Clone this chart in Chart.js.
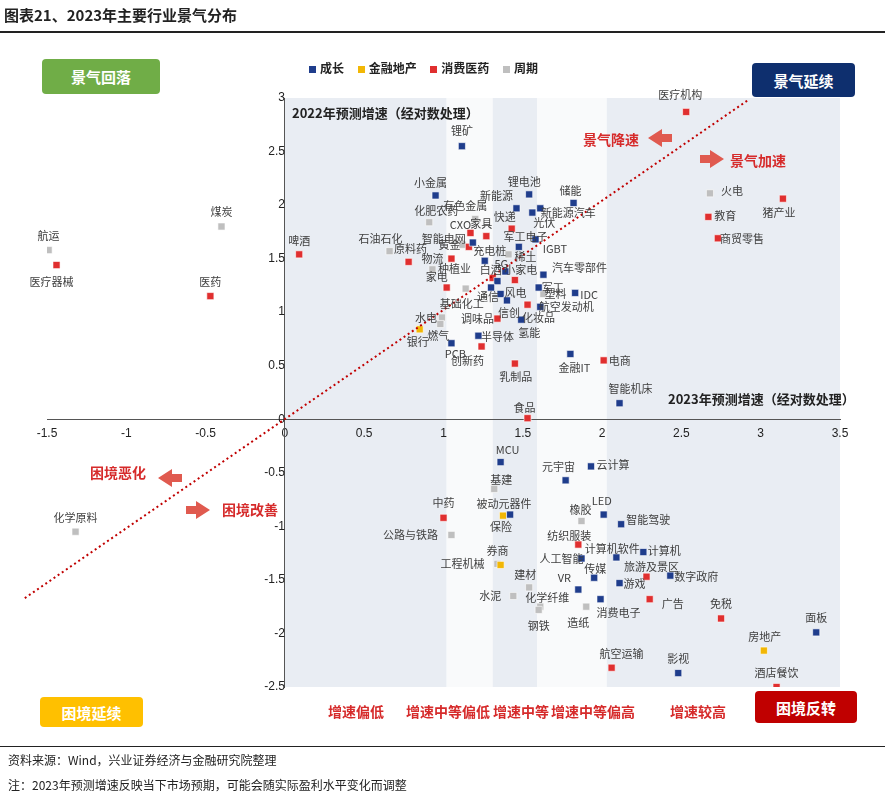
<!DOCTYPE html>
<html><head><meta charset="utf-8">
<script src="https://cdn.jsdelivr.net/npm/chart.js@4"></script>
<style>
body{margin:0;width:885px;height:802px;position:relative;background:#fff;font-family:"Noto Sans CJK SC",sans-serif;overflow:hidden}
.abs{position:absolute;white-space:nowrap}
.box{position:absolute;color:#fff;font-weight:bold;font-size:15px;display:flex;align-items:center;justify-content:center;border-radius:4px}
.red{color:#d62b2b;font-weight:bold;font-size:14px}
.lg{display:inline-block;width:7px;height:7px;margin-right:4px;vertical-align:middle}
</style></head><body>
<canvas id="c" width="885" height="802" style="position:absolute;left:0;top:0"></canvas>
<div class="abs" style="left:4px;top:4px;font-weight:bold;font-size:15px;color:#222">图表21、2023年主要行业景气分布</div>
<div class="abs" style="left:0;top:31px;width:885px;height:2px;background:#222"></div>
<div class="box" style="left:42px;top:59px;width:118px;height:35px;background:#70ad47">景气回落</div>
<div class="box" style="left:752px;top:63px;width:103px;height:34px;background:#0e2f6e">景气延续</div>
<div class="box" style="left:40px;top:697px;width:103px;height:30px;background:#ffc000">困境延续</div>
<div class="box" style="left:755px;top:691px;width:102px;height:32px;background:#c00000">困境反转</div>
<div class="abs" style="left:309px;top:59px;font-size:12px;font-weight:bold;color:#222">
<span class="lg" style="background:#1f3d8c"></span>成长&nbsp;&nbsp;&nbsp;&nbsp;&nbsp;<span class="lg" style="background:#f2b705"></span>金融地产&nbsp;&nbsp;&nbsp;&nbsp;&nbsp;<span class="lg" style="background:#e02f2f"></span>消费医药&nbsp;&nbsp;&nbsp;&nbsp;&nbsp;<span class="lg" style="background:#bfbfbf"></span>周期</div>
<div class="abs" style="left:292px;top:103px;font-size:13px;font-weight:bold;color:#222">2022年预测增速（经对数处理）</div>
<div class="abs" style="left:668px;top:389px;font-size:13px;font-weight:bold;color:#222">2023年预测增速（经对数处理）</div>
<div class="abs red" style="left:583px;top:129px">景气降速</div>
<div class="abs red" style="left:730px;top:150px">景气加速</div>
<div class="abs red" style="left:90px;top:462px">困境恶化</div>
<div class="abs red" style="left:222px;top:499px">困境改善</div>
<div class="abs red" style="left:328px;top:701px">增速偏低</div>
<div class="abs red" style="left:406px;top:701px">增速中等偏低</div>
<div class="abs red" style="left:493px;top:701px">增速中等</div>
<div class="abs red" style="left:551px;top:701px">增速中等偏高</div>
<div class="abs red" style="left:670px;top:701px">增速较高</div>
<svg class="abs" style="left:0;top:0" width="885" height="802">
<polygon points="672,134 662,134 662,129 648,138 662,147 662,142 672,142" fill="#e05a4f"/>
<polygon points="700,155 710,155 710,150 724,159 710,168 710,163 700,163" fill="#e05a4f"/>
<polygon points="182,474 172,474 172,469 158,478 172,487 172,482 182,482" fill="#e05a4f"/>
<polygon points="186,506 196,506 196,501 210,510 196,519 196,514 186,514" fill="#e05a4f"/>
</svg>
<div class="abs" style="left:0;top:746px;width:885px;height:1px;background:#222"></div>
<div class="abs" style="left:8px;top:751px;font-size:12px;color:#222">资料来源：Wind，兴业证券经济与金融研究院整理</div>
<div class="abs" style="left:8px;top:776px;font-size:12px;color:#222">注：2023年预测增速反映当下市场预期，可能会随实际盈利水平变化而调整</div>
<script>
// ---- data ----
const growthNames=["锂矿","小金属","锂电池","新能源","储能","新能源汽车","光伏","智能电网","军工电子","IGBT","充电桩","5G","汽车零部件","","军工","IDC","通信","风电","信创","航空发动机","氢能","半导体","PCB","金融IT","智能机床","MCU","元宇宙","云计算","LED","被动元器件","智能驾驶","计算机软件","计算机","人工智能","传媒","游戏","数字政府","VR","消费电子","影视","面板"];
const growthX=[1.116,0.95,1.54,1.46,1.82,1.61,1.56,1.185,1.58,1.475,1.26,1.39,1.63,1.34,1.60,1.83,1.30,1.36,1.40,1.61,1.49,1.22,1.05,1.80,2.11,1.36,1.77,1.93,2.01,1.42,2.12,2.09,2.26,1.87,1.95,2.11,2.43,1.85,1.99,2.48,3.35];
const growthY=[2.55,2.09,2.10,1.97,2.02,1.97,1.93,1.65,1.68,1.61,1.48,1.38,1.35,1.29,1.23,1.18,1.23,1.17,1.11,1.05,0.93,0.78,0.71,0.61,0.15,-0.40,-0.57,-0.44,-0.89,-0.89,-0.98,-1.29,-1.24,-1.30,-1.48,-1.53,-1.46,-1.59,-1.68,-2.37,-1.99];
const finNames=["银行","保险","券商","房地产"];
const finX=[0.85,1.375,1.36,3.02];
const finY=[0.84,-0.90,-1.36,-2.16];
const consNames=["医疗机构","猪产业","教育","商贸零售","啤酒","医疗器械","医药","原料药","CXO","家具","快递","","种植业","白酒","小家电","家电","化妆品","调味品","创新药","乳制品","电商","食品","中药","纺织服装","旅游及景区","广告","免税","航空运输","酒店餐饮"];
const consX=[2.53,3.14,2.67,2.73,0.09,-1.44,-0.47,0.78,1.17,1.27,1.43,1.16,1.05,1.31,1.45,1.02,1.53,1.34,1.24,1.45,2.01,1.53,1.00,1.85,2.28,2.30,2.75,2.06,3.10];
const consY=[2.87,2.06,1.89,1.69,1.54,1.44,1.15,1.47,1.74,1.71,1.78,1.61,1.50,1.32,1.30,1.23,1.07,0.94,0.68,0.52,0.55,0.01,-0.92,-1.17,-1.47,-1.68,-1.86,-2.32,-2.50];
const cycNames=["航运","煤炭","化学原料","石油石化","化肥农药","有色金属","黄金","稀土","物流","基础化工","塑料","水电","燃气","基建","橡胶","公路与铁路","工程机械","建材","水泥","化学纤维","钢铁","造纸","火电"];
const cycX=[-1.49,-0.40,-1.32,0.66,0.91,1.20,1.12,1.41,0.93,1.14,1.63,0.99,0.98,1.32,1.87,1.05,1.34,1.54,1.44,1.61,1.60,1.90,2.68];
const cycY=[1.58,1.80,-1.05,1.57,1.84,1.87,1.63,1.54,1.40,1.22,1.17,0.95,0.89,-0.65,-0.95,-1.08,-1.35,-1.57,-1.65,-1.75,-1.78,-1.75,2.11];
const bandEdges=[0,1.02,1.31,1.59,2.03,3.5];
const diagX=[-1.64,2.93], diagY=[-1.67,2.99];
// ---- label placement (px offsets) ----
const off={"锂矿":[0,-15],"小金属":[-5,-13],"锂电池":[-5,-13],"新能源":[-20,-12],"储能":[-3,-12],"新能源汽车":[28,5],"光伏":[12,10],"智能电网":[-29,-4],"军工电子":[-10,-3],"IGBT":[36,2],"充电桩":[5,-10],"5G":[-4,-8],"汽车零部件":[36,-7],"军工":[14,0],"IDC":[14,2],"通信":[-3,9],"风电":[15,-1],"信创":[2,12],"航空发动机":[26,0],"氢能":[8,13],"半导体":[19,1],"PCB":[4,11],"金融IT":[4,14],"智能机床":[11,-14],"MCU":[7,-12],"元宇宙":[-7,-14],"云计算":[22,-2],"LED":[-2,-14],"被动元器件":[-6,-11],"智能驾驶":[27,-4],"计算机软件":[-4,-9],"计算机":[21,-1],"人工智能":[-20,0],"传媒":[1,-9],"游戏":[15,1],"数字政府":[26,1],"VR":[-14,-12],"消费电子":[18,14],"影视":[0,-14],"面板":[0,-15],
"银行":[-2,12],"保险":[-2,11],"券商":[-3,-14],"房地产":[1,-14],
"医疗机构":[-6,-17],"猪产业":[-4,14],"教育":[17,-1],"商贸零售":[24,1],"啤酒":[0,-14],"医疗器械":[-5,17],"医药":[0,-14],"原料药":[2,-13],"CXO":[-10,-8],"家具":[-5,-12],"快递":[-7,-12],"种植业":[3,10],"白酒":[-2,-8],"小家电":[6,-10],"家电":[-10,-11],"化妆品":[11,13],"调味品":[-20,0],"创新药":[-14,14],"乳制品":[1,13],"电商":[16,0],"食品":[-3,-10],"中药":[0,-15],"纺织服装":[-9,-9],"旅游及景区":[5,-10],"广告":[23,5],"免税":[0,-15],"航空运输":[10,-14],"酒店餐饮":[0,-14],
"航运":[0,-14],"煤炭":[0,-15],"化学原料":[0,-14],"石油石化":[-9,-12],"化肥农药":[7,-11],"有色金属":[-10,-13],"黄金":[-13,0],"稀土":[17,2],"物流":[0,-11],"基础化工":[-4,15],"塑料":[12,0],"水电":[-16,0],"燃气":[-2,12],"基建":[7,-9],"橡胶":[-1,-11],"公路与铁路":[-41,0],"工程机械":[-35,0],"建材":[-4,-13],"水泥":[-23,0],"化学纤维":[7,-9],"钢铁":[0,16],"造纸":[-8,16],"火电":[22,-2]};
const mk=(xs,ys,ns)=>xs.map((x,i)=>({x,y:ys[i],n:ns[i]}));
const ds=(label,xs,ys,ns,color)=>({type:'scatter',label,data:mk(xs,ys,ns),backgroundColor:color,borderColor:'#ffffff',borderWidth:0.6,pointStyle:'rect',pointRadius:5});
const bands={id:'bands',beforeDraw(ch){const {ctx,scales:{x,y}}=ch;const cols=['#e9edf3','#f9fafb','#e9edf3','#f9fafb','#e9edf3'];
 for(let i=0;i<5;i++){ctx.fillStyle=cols[i];const a=x.getPixelForValue(bandEdges[i]),b=x.getPixelForValue(bandEdges[i+1]);ctx.fillRect(a,y.getPixelForValue(3),b-a,y.getPixelForValue(-2.5)-y.getPixelForValue(3));}}};
const labels={id:'labels',afterDatasetsDraw(ch){const ctx=ch.ctx;ctx.save();ctx.font='11px "Noto Sans CJK SC"';ctx.fillStyle='#404040';ctx.textAlign='center';ctx.textBaseline='middle';
 ch.data.datasets.forEach((d,di)=>{if(d.type!=='scatter')return;const meta=ch.getDatasetMeta(di);d.data.forEach((p,i)=>{if(!p.n)return;const o=off[p.n]||[0,-13];const el=meta.data[i];ctx.fillText(p.n,el.x+o[0],el.y+o[1]);});});ctx.restore();}};
const fmt=v=>String(Math.round(v*10)/10);
new Chart(document.getElementById('c'),{
 data:{datasets:[
  {type:'line',data:diagX.map((x,i)=>({x,y:diagY[i]})),borderColor:'#c00000',borderWidth:2,borderDash:[2,3],pointRadius:0,clip:false},
  ds('成长',growthX,growthY,growthNames,'#1f3d8c'),
  ds('金融地产',finX,finY,finNames,'#f2b705'),
  ds('消费医药',consX,consY,consNames,'#e02f2f'),
  ds('周期',cycX,cycY,cycNames,'#bfbfbf')]},
 options:{responsive:false,animation:false,devicePixelRatio:1,
  layout:{padding:{left:47,right:45,top:98,bottom:115}},
  plugins:{legend:{display:false},tooltip:{enabled:false}},
  scales:{
   x:{type:'linear',min:-1.5,max:3.5,position:{y:0},grid:{display:false,drawTicks:true,tickLength:4},border:{color:'#555'},ticks:{stepSize:0.5,color:'#222',font:{size:12},maxRotation:0,autoSkip:false,callback:fmt}},
   y:{type:'linear',min:-2.5,max:3,position:{x:0},grid:{display:false,tickLength:4},border:{color:'#555'},ticks:{stepSize:0.5,color:'#222',font:{size:12},callback:fmt}}
  }},
 plugins:[bands,labels]});
</script></body></html>
